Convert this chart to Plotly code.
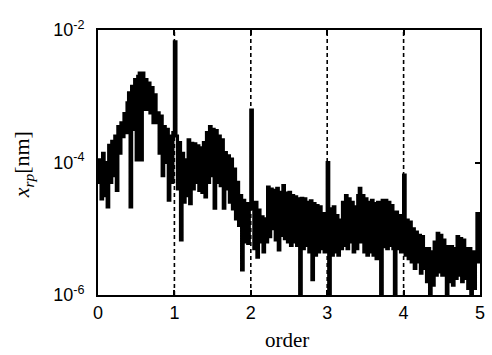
import plotly.graph_objects as go

# order axis sampling (step 0.02 from 0 to 5)
order_step = 0.02
# log10 of amplitude x_rp [nm] at each order sample
log10_xrp = [
    -4.3, -3.96, -4.55, -3.86, -4.5, -4.0, -4.67, -3.74, -4.3, -3.68,
    -4.2, -3.6, -4.42, -3.46, -3.86, -3.4, -3.61, -3.26, -3.55, -3.1,
    -2.95, -4.67, -2.85, -3.5, -2.75, -3.96, -2.7, -2.65, -3.96, -2.65,
    -3.2, -2.75, -3.2, -2.8, -3.25, -2.87, -3.4, -2.98, -3.4, -3.25,
    -3.86, -3.3, -4.2, -3.46, -4.0, -3.5, -4.57, -3.6, -4.3, -3.55,
    -2.18, -3.6, -4.4, -3.7, -5.17, -3.86, -4.6, -3.96, -4.5, -3.66,
    -4.62, -3.71, -4.4, -3.72, -4.3, -3.75, -4.42, -3.78, -4.45, -3.7,
    -4.52, -3.55, -4.3, -3.46, -4.2, -3.5, -4.69, -3.52, -4.3, -3.6,
    -4.35, -3.66, -4.69, -3.85, -4.4, -3.9, -4.6, -3.95, -4.7, -4.1,
    -4.85, -4.3, -4.95, -4.5, -5.62, -4.57, -5.2, -4.62, -5.22, -4.7,
    -3.21, -4.65, -5.3, -4.6, -5.43, -4.72, -5.2, -4.82, -5.35, -4.85,
    -5.2, -4.37, -5.12, -4.4, -5.0, -4.42, -5.17, -4.39, -5.32, -4.45,
    -5.1, -4.35, -5.15, -4.46, -5.2, -4.45, -5.25, -4.5, -5.2, -4.52,
    -5.25, -4.55, -6.2, -4.54, -5.3, -4.55, -5.25, -4.6, -5.35, -4.58,
    -5.77, -4.62, -5.4, -4.65, -5.35, -4.67, -5.3, -4.77, -5.35, -4.8,
    -4.0, -6.2, -4.7, -5.4, -4.67, -5.35, -4.8, -5.4, -4.87, -5.3,
    -4.6, -5.25, -4.5, -5.3, -4.55, -5.2, -4.6, -5.35, -4.67, -5.3,
    -4.5, -4.39, -5.2, -4.5, -5.35, -4.55, -5.4, -4.6, -5.35, -4.57,
    -5.4, -4.62, -5.45, -4.6, -5.3, -6.2, -4.57, -5.27, -4.57, -5.3,
    -4.6, -5.25, -4.65, -5.3, -6.2, -4.75, -5.3, -4.8, -5.35, -4.85,
    -4.19, -5.4, -4.87, -5.45, -4.9, -5.5, -5.0, -5.6, -5.05, -5.5,
    -5.1, -5.67, -5.12, -5.6, -5.3, -5.8, -5.3, -6.2, -5.35, -5.85,
    -5.2, -5.7, -5.07, -5.65, -5.1, -5.7, -5.17, -5.7, -6.2, -5.27,
    -5.8, -5.27, -5.85, -5.3, -5.75, -5.12, -5.7, -5.15, -5.8, -5.17,
    -5.75, -5.3, -5.9, -5.3, -6.2, -5.35, -5.9, -5.4, -4.77, -5.5,
    -5.3,
]
order = [round(i * order_step, 4) for i in range(len(log10_xrp))]
xrp_nm = [10 ** v for v in log10_xrp]

harmonics = [1, 2, 3, 4]
x_ticks = [0, 1, 2, 3, 4, 5]
y_ticks = [1e-6, 1e-4, 1e-2]
y_ticktext = ["10<sup>-6</sup>", "10<sup>-4</sup>", "10<sup>-2</sup>"]

fig = go.Figure()
fig.add_trace(go.Scatter(
    x=order, y=xrp_nm, mode="lines",
    line=dict(color="black", width=3.2, shape="hv"),
    showlegend=False, hoverinfo="skip",
))

for h in harmonics:
    fig.add_shape(type="line", xref="x", yref="paper", x0=h, x1=h, y0=0, y1=1,
                  line=dict(color="black", width=1.6, dash="4px,3px"), layer="above")

tick_font = dict(family="Liberation Sans, Arial, sans-serif", size=18, color="black")
fig.update_layout(
    width=492, height=355,
    margin=dict(l=98, r=7, t=30, b=60),
    paper_bgcolor="white", plot_bgcolor="white",
    xaxis=dict(range=[0, 5], tickvals=x_ticks, ticks="inside", ticklen=5,
               tickcolor="black", tickwidth=1.5, showline=True, linecolor="black",
               linewidth=2, mirror="ticks", showgrid=False, zeroline=False,
               tickfont=tick_font),
    yaxis=dict(type="log", range=[-6, -2], tickvals=y_ticks, ticktext=y_ticktext,
               ticks="inside", ticklen=5, tickcolor="black", tickwidth=1.5,
               showline=True, linecolor="black", linewidth=2, mirror="ticks",
               showgrid=False, zeroline=False, tickfont=tick_font,
               ticklabelstandoff=8),
    annotations=[
        dict(text="order", xref="paper", yref="paper", x=0.496, y=-0.17,
             showarrow=False, xanchor="center", yanchor="middle",
             font=dict(family="Liberation Serif, Times New Roman, serif", size=21, color="black")),
        dict(text="<i>x<sub>rp</sub></i>[nm]", xref="paper", yref="paper",
             x=-0.196, y=0.49, textangle=-90, showarrow=False,
             xanchor="center", yanchor="middle",
             font=dict(family="Liberation Serif, Times New Roman, serif", size=22, color="black")),
    ],
)

fig.write_html("out.html")
